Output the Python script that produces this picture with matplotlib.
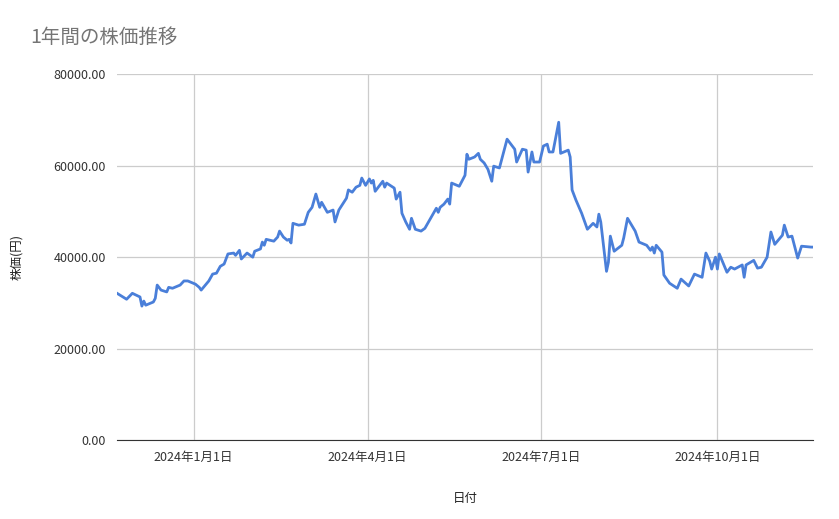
import matplotlib
matplotlib.use("Agg")
import matplotlib.pyplot as plt
import matplotlib.dates as mdates
import pandas as pd

plt.rcParams['font.family'] = ['Noto Sans CJK JP', 'DejaVu Sans']

days_from_2024_01_01 = [-40,-35,-32,-28,-27,-26,-25,-21,-20,-19,-17,-14,-13,-11,-7,-5,-3,1,3,4,8,10,12,14,16,18,21,22,24,25,28,31,32,35,36,37,38,42,44,45,47,49,50,51,52,55,58,60,62,64,66,67,70,73,74,76,80,81,83,85,87,88,90,92,93,94,95,99,100,101,105,106,108,109,111,113,114,116,119,121,127,128,129,131,133,134,135,139,142,143,144,147,149,150,152,154,156,157,160,164,168,169,172,174,175,177,178,181,183,185,186,188,191,192,196,197,198,200,203,206,209,211,212,213,216,217,218,220,224,225,227,231,233,237,239,240,241,242,245,246,249,253,255,259,262,266,268,270,271,273,274,275,279,281,283,287,288,289,293,295,297,300,302,304,308,309,311,313,316,318,323,324]
prices = [32100,30800,32100,31300,29300,30400,29500,30200,31000,33900,32800,32400,33400,33200,33900,34800,34800,34100,33400,32800,34800,36300,36500,38000,38500,40700,40900,40400,41500,39600,40900,40000,41300,41800,43300,42600,43900,43500,44400,45700,44400,43700,43900,43100,47400,47000,47200,49800,50900,53800,50900,52000,49800,50300,47700,50300,52900,54700,54200,55300,55700,57300,55700,57100,56200,56800,54400,56600,55300,56200,55100,52700,54200,49600,47700,46100,48500,46100,45700,46300,50700,49800,50900,51600,52700,51600,56200,55500,57900,62500,61400,61900,62700,61400,60600,59200,56600,59900,59500,65800,63600,60800,63600,63400,58600,63000,60800,60800,64300,64700,63000,63000,69500,62700,63400,61900,54700,52500,49600,46100,47400,46600,49400,47700,36900,38900,44600,41300,42600,44200,48500,45700,43300,42600,41500,42200,40900,42600,41100,36100,34300,33200,35200,33700,36300,35600,40900,39100,37400,40000,37400,40700,36700,37800,37400,38300,35600,38300,39300,37600,37800,40000,45500,42800,44800,47000,44400,44600,39800,42400,42200,42200]
tick_dates = ['2024-01-01', '2024-04-01', '2024-07-01', '2024-10-01']
tick_labels = ['2024年1月1日', '2024年4月1日', '2024年7月1日', '2024年10月1日']
y_ticks = [0, 20000, 40000, 60000, 80000]

base = pd.Timestamp('2024-01-01')
dates = [base + pd.Timedelta(days=d) for d in days_from_2024_01_01]

fig = plt.figure(figsize=(8.39, 5.19), dpi=100)
ax = fig.add_axes([0.1395, 0.152, 0.8295, 0.705])
ax.plot(dates, prices, color='#4a7fd9', linewidth=2)

ax.set_xlim(dates[0], dates[-1])
ax.set_ylim(0, 80000)
ax.set_yticks(y_ticks)
ax.set_yticklabels([f'{v:.2f}' for v in y_ticks])
ax.set_xticks([pd.Timestamp(d) for d in tick_dates])
ax.set_xticklabels(tick_labels)
ax.tick_params(length=0, labelsize=9, colors='#333333', pad=8)
ax.grid(True, color='#cccccc', linewidth=0.9)
ax.set_axisbelow(True)
for s in ['top', 'right', 'left']:
    ax.spines[s].set_visible(False)
ax.spines['bottom'].set_color('#333333')

ax.set_xlabel('日付', fontsize=9, color='#222222', labelpad=20)
ax.set_ylabel('株価(円)', fontsize=9, color='#222222', labelpad=22)
fig.text(0.036, 0.927, '1年間の株価推移', fontsize=14, color='#757575', va='center')

fig.savefig('out.png', dpi=100)
